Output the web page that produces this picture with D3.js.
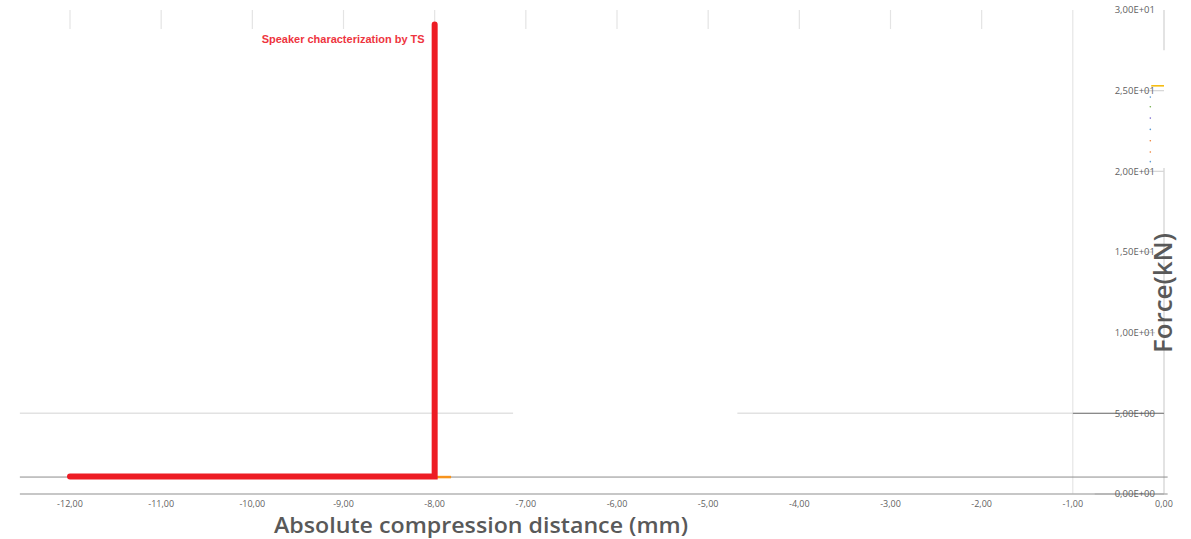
<!DOCTYPE html>
<html>
<head>
<meta charset="utf-8">
<script src="https://cdn.jsdelivr.net/npm/d3@7"></script>
<style>
html,body{margin:0;padding:0;background:#fff;}
svg{display:block;}
</style>
</head>
<body>
<svg id="chart" width="1191" height="539"></svg>
<script>
// ---- data ----
const xTicks = [-12,-11,-10,-9,-8,-7,-6,-5,-4,-3,-2,-1,0];
const yTicks = [0,5,10,15,20,25,30];
const seriesName = "Speaker characterization by TS";
const redX = [-12, -8, -8];
const redY = [1.08, 1.08, 29.1];
const orangeX = [-8, -7.82];
const orangeY = [1.05, 1.05];
const orangeTopX = [-0.14, 0];
const orangeTopY = [25.3, 25.3];
const dotX = [-0.15,-0.15,-0.15,-0.15,-0.15,-0.15,-0.15];
const dotY = [24.6,24.0,23.3,22.6,21.9,21.2,20.6];
const dotColors = ["#5b9bd5","#70ad47","#7f6fd0","#5b9bd5","#ed7d31","#ed7d31","#5b9bd5"];
const baseLevel = 1.05;
const xTitle = "Absolute compression distance (mm)";
const yTitle = "Force(kN)";

// ---- scales ----
const svg = d3.select("#chart");
const x = d3.scaleLinear().domain([-12, 0]).range([70, 1164]);
const y = d3.scaleLinear().domain([0, 30]).range([494, 10]);

const fmtX = v => d3.format(".2f")(v).replace(".", ",").replace("−","-");
const fmtY = v => {
  const s = v.toExponential(2);
  const [m, e] = s.split("e");
  const sign = e[0] === "-" ? "-" : "+";
  const ex = String(Math.abs(+e)).padStart(2, "0");
  return m.replace(".", ",") + "E" + sign + ex;
};

svg.append("rect").attr("width",1191).attr("height",539).attr("fill","#fff");

// top tick stubs (gridline fragments)
svg.append("g").selectAll("line").data(xTicks.filter(v => v <= -2)).join("line")
  .attr("x1", d => x(d)).attr("x2", d => x(d))
  .attr("y1", y(30)).attr("y2", y(30) + 19)
  .attr("stroke", "#e4e4e4").attr("stroke-width", 1.2);

// full vertical gridline at -1
svg.append("line")
  .attr("x1", x(-1)).attr("x2", x(-1)).attr("y1", y(30)).attr("y2", y(0))
  .attr("stroke", "#e0e0e0").attr("stroke-width", 1);

// right border line (segments)
[[30, 27.5],[20.2, 0]].forEach(([a,b]) => {
  svg.append("line")
    .attr("x1", x(0)).attr("x2", x(0)).attr("y1", y(a)).attr("y2", y(b))
    .attr("stroke", "#d0d0d0").attr("stroke-width", 1.2);
});

// gridline at 5 (broken)
[[-12.55,-7.14],[-4.68,0]].forEach(([a,b]) => {
  svg.append("line")
    .attr("x1", x(a)).attr("x2", x(b)).attr("y1", y(5)).attr("y2", y(5))
    .attr("stroke", "#e2e2e2").attr("stroke-width", 1.5);
});

// short gridlines through right labels
const shortGrid = [[25,-0.22,0],[20,-0.22,0],[15,-0.22,-0.12],[10,-0.22,-0.1],[5,-1,0],[0,-0.76,0]];
svg.append("g").selectAll("line").data(shortGrid).join("line")
  .attr("x1", d => x(d[1])).attr("x2", d => x(d[2]))
  .attr("y1", d => y(d[0])).attr("y2", d => y(d[0]))
  .attr("stroke", d => d[0] <= 5 ? "#8a8a8a" : "#d6d6d6").attr("stroke-width", 1.2);

// x axis line
svg.append("line")
  .attr("x1", x(-12.55)).attr("x2", x(0.04)).attr("y1", y(0)).attr("y2", y(0))
  .attr("stroke", "#b5b5b5").attr("stroke-width", 1.5);

// baseline level line
svg.append("line")
  .attr("x1", x(-12.55)).attr("x2", x(0.04)).attr("y1", y(baseLevel)).attr("y2", y(baseLevel))
  .attr("stroke", "#8c8c8c").attr("stroke-width", 1);

// x tick labels
svg.append("g").selectAll("text").data(xTicks).join("text")
  .attr("x", d => x(d)).attr("y", y(0) + 13)
  .attr("text-anchor", "middle")
  .attr("font-family", "'Liberation Sans Narrow','Open Sans',sans-serif")
  .attr("font-size", 9).attr("fill", "#5f5f5f")
  .text(fmtX);

// y tick labels
svg.append("g").selectAll("text").data(yTicks).join("text")
  .attr("x", x(0) - 9).attr("y", d => y(d))
  .attr("dy", "0.35em")
  .attr("text-anchor", "end")
  .attr("font-family", "'Liberation Sans Narrow','Open Sans',sans-serif")
  .attr("font-size", 9.5).attr("fill", "#5f5f5f")
  .text(fmtY);

// orange series
const line = d3.line().x(d => x(d[0])).y(d => y(d[1]));
svg.append("path")
  .attr("d", line(orangeX.map((v,i) => [v, orangeY[i]])))
  .attr("fill","none").attr("stroke","#f7941d").attr("stroke-width",2.5);
svg.append("path")
  .attr("d", line(orangeTopX.map((v,i) => [v, orangeTopY[i]])))
  .attr("fill","none").attr("stroke","#f5b800").attr("stroke-width",1.5);
svg.append("g").selectAll("circle").data(dotX.map((v,i)=>[v,dotY[i],dotColors[i]])).join("circle")
  .attr("cx", d => x(d[0])).attr("cy", d => y(d[1])).attr("r", 0.8)
  .attr("fill", d => d[2]);

// red series
svg.append("path")
  .attr("d", line(redX.map((v,i) => [v, redY[i]])))
  .attr("fill","none").attr("stroke","#ed1c24").attr("stroke-width",6)
  .attr("stroke-linejoin","miter").attr("stroke-linecap","round");

// series label
svg.append("text")
  .attr("x", x(-8) - 10).attr("y", 43)
  .attr("text-anchor","end")
  .attr("font-family","'Liberation Sans',Arial,sans-serif")
  .attr("font-weight","bold").attr("font-size",11)
  .attr("fill","#ee3540")
  .attr("textLength",163).attr("lengthAdjust","spacingAndGlyphs")
  .text(seriesName);

// x title
svg.append("text")
  .attr("x", 274).attr("y", 533)
  .attr("font-family","'Open Sans',sans-serif")
  .attr("font-weight",600).attr("font-size",21)
  .attr("fill","#595959")
  .attr("textLength",414).attr("lengthAdjust","spacingAndGlyphs")
  .text(xTitle);

// y title
svg.append("text")
  .attr("transform", `translate(1172,${353}) rotate(-90)`)
  .attr("font-family","'Open Sans',sans-serif")
  .attr("font-weight",600).attr("font-size",26)
  .attr("fill","#595959")
  .attr("textLength",120).attr("lengthAdjust","spacingAndGlyphs")
  .text(yTitle);
</script>
</body>
</html>
